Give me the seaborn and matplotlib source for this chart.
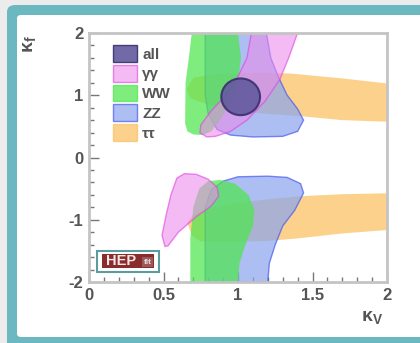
import matplotlib
matplotlib.use("Agg")
import matplotlib.pyplot as plt
from matplotlib.patches import Patch, FancyBboxPatch, Rectangle, Ellipse
from matplotlib.ticker import MultipleLocator
import seaborn as sns

# ---------------- data (kappa_V, kappa_f) region outlines ----------------
labels = ["all", "γγ", "WW", "ZZ", "ττ"]

zz_up_kv = [0.78, 0.78, 0.80, 0.86, 0.95, 1.10, 1.30, 1.40, 1.44, 1.40, 1.33, 1.27, 1.22, 1.19]
zz_up_kf = [2.00, 1.00, 0.70, 0.45, 0.36, 0.33, 0.34, 0.42, 0.60, 0.78, 1.00, 1.30, 1.60, 2.00]
zz_lo_kv = [0.78, 0.78, 0.82, 0.90, 1.00, 1.20, 1.33, 1.42, 1.44, 1.38, 1.30, 1.25, 1.21, 1.20]
zz_lo_kf = [-2.00, -0.80, -0.52, -0.38, -0.31, -0.30, -0.32, -0.42, -0.57, -0.85, -1.10, -1.40, -1.70, -2.00]

ww_up_kv = [0.69, 0.67, 0.648, 0.645, 0.66, 0.70, 0.76, 0.82, 0.88, 0.95, 1.00, 1.02, 1.00]
ww_up_kf = [2.00, 1.60, 1.20, 0.55, 0.42, 0.37, 0.36, 0.42, 0.60, 0.90, 1.20, 1.60, 2.00]
ww_lo_kv = [0.68, 0.68, 0.70, 0.74, 0.80, 0.88, 0.98, 1.07, 1.11, 1.10, 1.05, 1.01, 1.00]
ww_lo_kf = [-2.00, -1.30, -0.80, -0.50, -0.38, -0.36, -0.42, -0.60, -0.85, -1.10, -1.40, -1.70, -2.00]

tt_up_kv = [0.655, 0.70, 0.85, 1.10, 1.35, 1.70, 2.00, 2.00, 1.70, 1.44, 1.20, 1.00, 0.80, 0.68]
tt_up_kf = [1.10, 1.28, 1.34, 1.36, 1.35, 1.27, 1.19, 0.575, 0.60, 0.66, 0.70, 0.75, 0.85, 0.95]
tt_lo_kv = [0.66, 0.70, 0.80, 1.00, 1.20, 1.44, 1.70, 2.00, 2.00, 1.70, 1.40, 1.20, 0.90, 0.75, 0.69]
tt_lo_kf = [-1.05, -0.92, -0.82, -0.73, -0.67, -0.62, -0.59, -0.575, -1.165, -1.22, -1.30, -1.34, -1.36, -1.35, -1.25]

aa_up_kv = [0.79, 0.745, 0.75, 0.82, 0.92, 1.00, 1.06, 1.09, 1.40, 1.34, 1.28, 1.18, 1.06, 0.95, 0.85]
aa_up_kf = [0.33, 0.40, 0.52, 0.75, 1.00, 1.30, 1.60, 2.00, 2.00, 1.60, 1.25, 0.90, 0.60, 0.42, 0.34]
aa_lo_kv = [0.51, 0.49, 0.52, 0.55, 0.59, 0.64, 0.72, 0.80, 0.86, 0.87, 0.82, 0.72, 0.60, 0.53]
aa_lo_kf = [-1.43, -1.25, -0.90, -0.60, -0.33, -0.26, -0.27, -0.35, -0.48, -0.62, -0.78, -0.95, -1.20, -1.42]

all_center = (1.018, 0.975)
all_width = 0.26
all_height = 0.59

# ---------------- styling ----------------
sns.set_theme(style="ticks")
plt.rcParams['font.family'] = ['Liberation Sans', 'DejaVu Sans']

c_zz, e_zz = (0.55, 0.65, 0.93), "#4b5cf0"
c_ww, e_ww = (0.30, 0.90, 0.30), (0.30, 0.90, 0.30)
c_tt, e_tt = (0.98, 0.76, 0.40), (0.98, 0.76, 0.40)
c_aa, e_aa = (0.92, 0.55, 0.92), "#e040e0"
c_all, e_all = "#625a9e", "#3b2f6e"

fig = plt.figure(figsize=(4.2, 3.43), dpi=100)
fig.patch.set_facecolor("#ececec")
W, H = 420, 343
fig.patches.append(FancyBboxPatch((7 / W, -20 / H), 440 / W, (343 - 5 + 20) / H,
                                  boxstyle="round,pad=0,rounding_size=0.02",
                                  transform=fig.transFigure, facecolor="#6bb8c1",
                                  edgecolor="none", zorder=-3))
fig.patches.append(FancyBboxPatch((17 / W, 6 / H), 440 / W, (343 - 15 - 6) / H,
                                  boxstyle="round,pad=0,rounding_size=0.01",
                                  transform=fig.transFigure, facecolor="white",
                                  edgecolor="none", zorder=-2))

ax = fig.add_axes([89 / W, 1 - 282 / H, 298 / W, 249 / H])
ax.set_facecolor("white")

def region(x, y, fc, ec, a=0.7, lw=1.0):
    ax.fill(x, y, facecolor=fc, edgecolor=ec, alpha=a, linewidth=lw)

region(tt_up_kv, tt_up_kf, c_tt, "none", 0.75)
region(tt_lo_kv, tt_lo_kf, c_tt, "none", 0.75)
region(zz_up_kv, zz_up_kf, c_zz, e_zz, 0.72)
region(zz_lo_kv, zz_lo_kf, c_zz, e_zz, 0.72)
region(ww_up_kv, ww_up_kf, c_ww, "none", 0.72)
region(ww_lo_kv, ww_lo_kf, c_ww, "none", 0.72)
region(aa_up_kv, aa_up_kf, c_aa, e_aa, 0.6)
region(aa_lo_kv, aa_lo_kf, c_aa, e_aa, 0.6)
ax.add_patch(Ellipse(all_center, all_width, all_height, angle=0,
                     facecolor=c_all, edgecolor=e_all, linewidth=1.5, alpha=0.9))

ax.set_xlim(0, 2)
ax.set_ylim(-2, 2)
ax.xaxis.set_minor_locator(MultipleLocator(0.1))
ax.yaxis.set_minor_locator(MultipleLocator(0.2))
ax.set_xticks([0, 0.5, 1, 1.5, 2])
ax.set_xticklabels(["0", "0.5", "1", "1.5", "2"])
ax.set_yticks([-2, -1, 0, 1, 2])
ax.set_yticklabels(["-2", "-1", "0", "1", "2"])
ax.tick_params(which="both", direction="in", color="#777777", width=1.0)
ax.tick_params(which="major", length=7, labelsize=12, labelcolor="#555555", pad=4)
ax.tick_params(which="minor", length=3.5)
for lab in ax.get_xticklabels() + ax.get_yticklabels():
    lab.set_fontweight("bold")
for s in ax.spines.values():
    s.set_color("#c4c4c4")
    s.set_linewidth(2.0)

fig.text(30 / W, 1 - 44 / H, "κ$_\\mathregular{f}$", rotation=90, ha="center", va="center",
         fontsize=14, fontweight="bold", color="#555555")
fig.text(372 / W, 1 - 318 / H, "κ$_\\mathregular{V}$", ha="center", va="center",
         fontsize=14, fontweight="bold", color="#555555")

handles = [
    Patch(facecolor=c_all, edgecolor=e_all, alpha=0.9),
    Patch(facecolor=c_aa, edgecolor=e_aa, alpha=0.6),
    Patch(facecolor=c_ww, edgecolor=e_ww, alpha=0.72),
    Patch(facecolor=c_zz, edgecolor=e_zz, alpha=0.72),
    Patch(facecolor=c_tt, edgecolor=e_tt, alpha=0.75),
]
leg = ax.legend(handles, labels, loc="upper left", bbox_to_anchor=(0.06, 0.975),
                frameon=False, handlelength=1.6, handleheight=1.3, handletextpad=0.3,
                labelspacing=0.2, borderaxespad=0, prop={"size": 11, "weight": "bold"})
for t in leg.get_texts():
    t.set_color("#555555")

# HEPfit logo
ax.add_patch(Rectangle((97 / W, 1 - 272 / H), 62 / W, 21 / H, transform=fig.transFigure,
                       facecolor="white", edgecolor="#5d9c9c", linewidth=1.5, zorder=5,
                       clip_on=False))
ax.add_patch(Rectangle((102 / W, 1 - 268 / H), 52 / W, 14 / H, transform=fig.transFigure,
                       facecolor="#8a2c2c", edgecolor="none", zorder=6, clip_on=False))
ax.add_patch(Rectangle((142 / W, 1 - 267 / H), 11 / W, 10 / H, transform=fig.transFigure,
                       facecolor="#9a5a5a", edgecolor="none", zorder=6.5, clip_on=False))
fig.text(121 / W, 1 - 261 / H, "HEP", ha="center", va="center", fontsize=10.5,
         fontweight="bold", color="#f4e8e8", zorder=7)
fig.text(147.5 / W, 1 - 262 / H, "fit", ha="center", va="center", fontsize=6,
         fontweight="bold", color="#e8d8d8", zorder=7)

fig.savefig("out.png", dpi=100, facecolor=fig.get_facecolor())
